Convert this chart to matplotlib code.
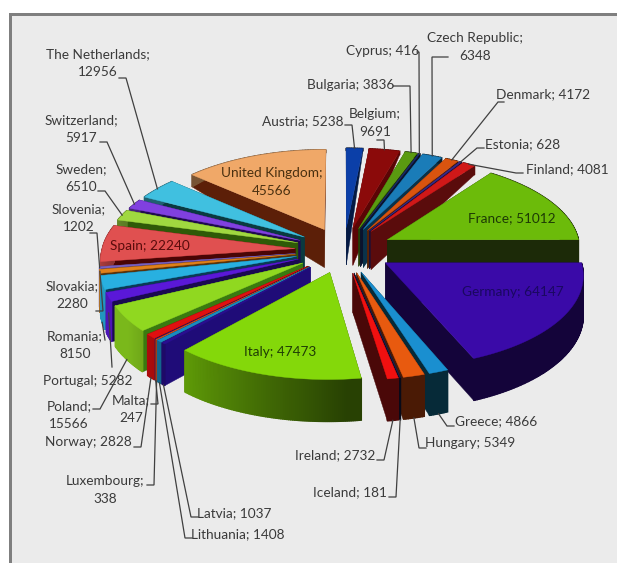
import numpy as np
import matplotlib
matplotlib.use('Agg')
import matplotlib.pyplot as plt
from matplotlib.patches import Polygon, Rectangle
from matplotlib.colors import to_rgb

plt.rcParams['font.family'] = ['Lato', 'DejaVu Sans']

countries = ['Austria', 'Belgium', 'Bulgaria', 'Cyprus', 'Czech Republic', 'Denmark', 'Estonia',
             'Finland', 'France', 'Germany', 'Greece', 'Hungary', 'Iceland', 'Ireland', 'Italy',
             'Latvia', 'Lithuania', 'Luxembourg', 'Malta', 'Norway', 'Poland', 'Portugal',
             'Romania', 'Slovakia', 'Slovenia', 'Spain', 'Sweden', 'Switzerland',
             'The Netherlands', 'United Kingdom']
values = [5238, 9691, 3836, 416, 6348, 4172, 628, 4081, 51012, 64147, 4866, 5349, 181, 2732,
          47473, 1037, 1408, 338, 247, 2828, 15566, 5282, 8150, 2280, 1202, 22240, 6510, 5917,
          12956, 45566]
colors = ['#0b3fa8', '#8b0a0a', '#5a9a10', '#1a2c70', '#1a7cb8', '#d9540f', '#3a2a90',
          '#d01818', '#6cbb0a', '#3a0aa8', '#1a8fd0', '#e85a0f', '#1a2050', '#f01010', '#84d80a',
          '#2a0e90', '#1a8ac0', '#e8500f', '#3a1a80', '#e01010', '#90d820', '#5a18d8',
          '#28b0e0', '#e0801a', '#7a60c0', '#e05050', '#a0d840', '#8040e0', '#40c0e0', '#f0a868']
# colours of the cut faces that do not follow the general shading
wall_colors = {'France': '#1c2a08', 'United Kingdom': '#5c1f08', 'Germany': '#14043a',
               'Greece': '#062a38', 'Hungary': '#4a1a05', 'Ireland': '#4a0808',
               'Finland': '#5a0c0c', 'The Netherlands': '#0a3a40', 'Sweden': '#2f5a08',
               'Poland': '#3a7a10', 'Switzerland': '#200a50', 'Spain': '#4a0505',
               'Portugal': '#1a0a50', 'Romania': '#0a3a55', 'Belgium': '#5a0505',
               'Latvia': '#1f0c78'}

# label centre x, y, broken over two lines, knee of the leader (None = no leader)
label_pos = {
    'Austria': (303, 121, False, (352, 125)),
    'Belgium': (375, 123, True, (384, 140)),
    'Bulgaria': (351, 85, False, (410, 86)),
    'Cyprus': (383, 51, False, (419, 52)),
    'Czech Republic': (475, 47, True, (432, 57)),
    'Denmark': (543, 94, False, (498, 102)),
    'Estonia': (523, 144, False, (477, 148)),
    'Finland': (567, 169, False, (516, 173)),
    'France': (512, 218, False, None),
    'Germany': (513, 292, False, None),
    'Greece': (496, 421, False, (447, 426)),
    'Hungary': (470, 443, False, (419, 448)),
    'Iceland': (350, 492, False, (396, 497)),
    'Ireland': (335, 455, False, (384, 460)),
    'Italy': (280, 352, False, None),
    'Latvia': (234, 513, False, (191, 517)),
    'Lithuania': (238, 534, False, (185, 538)),
    'Luxembourg': (105, 490, True, (154, 485)),
    'Malta': (131, 409, True, (158, 404)),
    'Norway': (88, 442, False, (141, 447)),
    'Poland': (69, 415, True, (100, 409)),
    'Portugal': (88, 381, False, (112, 367)),
    'Romania': (75, 345, True, (105, 340)),
    'Slovakia': (72, 295, True, (103, 311)),
    'Slovenia': (79, 218, True, (97, 233)),
    'Spain': (150, 246, False, None),
    'Sweden': (81, 178, True, (105, 191)),
    'Switzerland': (81, 129, True, (107, 142)),
    'The Netherlands': (98, 63, True, (126, 78)),
    'United Kingdom': (272, 182, True, None),
}
inner_text = {'France': '#1d3a05', 'Germany': '#1a0860', 'Italy': '#1f3d05',
              'Spain': '#5a0c0c', 'United Kingdom': '#4a3010'}
# stub lengths that differ from the usual 7 px, and where on the wall a leader lands
stub_len = {'Bulgaria': 17, 'Czech Republic': 16, 'Cyprus': 2, 'Portugal': 0, 'Romania': 0,
            'Denmark': 6}
wall_attach = {'Portugal': 0.4, 'Slovakia': 0, 'Slovenia': 0}

cx, cy = 344, 250
radius = 193
explode = 49
tilt = 0.465


def shade(col, f):
    return tuple(c * f for c in to_rgb(col))


def wall_height(Y):
    return np.interp(Y, [-206, 45, 174, 260], [42, 38, 12, 0])


def project(theta, r, mid):
    # plan position of a point of the exploded slice, then perspective
    t, m = np.radians(theta), np.radians(mid)
    X = r * np.sin(t) + explode * np.sin(m)
    Y = r * np.cos(t) + explode * np.cos(m)
    persp = np.where(Y > 0, 12 * radius, 9 * radius)
    s = persp / (persp + Y)
    return cx + X * s, cy - tilt * Y * s, wall_height(Y)


def arc_shade(a):
    return np.interp(a, [90, 160, 175, 222, 235, 260, 300], [0.25, 0.3, 0.3, 0.72, 0.85, 0.85, 0.5])


def draw_slice(ax, start, end, col, name):
    mid = (start + end) / 2
    angles = np.linspace(start, end, max(int(end - start) * 2, 3))
    ox, oy, oh = project(0, 0, mid)
    ex, ey, eh = project(angles, radius, mid)

    # two cut faces first
    face = wall_colors.get(name, shade(col, 0.4))
    for i in (0, -1):
        ax.add_patch(Polygon([(ox, oy), (ex[i], ey[i]), (ex[i], ey[i] + eh[i]), (ox, oy + oh)],
                             closed=True, fc=face, ec=face, lw=0.3))
    # outer wall in strips so the shading can change round the arc
    for i in range(len(angles) - 1):
        if name in wall_colors and mid < 170:
            c = wall_colors[name]
        else:
            c = shade(col, arc_shade((angles[i] + angles[i + 1]) / 2))
        ax.add_patch(Polygon([(ex[i], ey[i]), (ex[i + 1], ey[i + 1]),
                              (ex[i + 1], ey[i + 1] + eh[i + 1]), (ex[i], ey[i] + eh[i])],
                             closed=True, fc=c, ec=c, lw=1.0))
    ax.add_patch(Polygon(np.column_stack([np.r_[ox, ex], np.r_[oy, ey]]), closed=True,
                         fc=col, ec=col, lw=0.3))


fig = plt.figure(figsize=(6.17, 5.63), dpi=100)
ax = fig.add_axes([0, 0, 1, 1])
ax.set_xlim(0, 617)
ax.set_ylim(563, 0)
ax.axis('off')

# panel with the darker top and left border
ax.add_patch(Rectangle((10, 14), 607, 549, fc='#ebebeb', ec='none'))
ax.add_patch(Rectangle((9, 13), 3, 550, fc='#7f7f7f', ec='none'))
ax.add_patch(Rectangle((9, 13), 608, 3, fc='#7f7f7f', ec='none'))

vals = np.array(values, dtype=float)
edges = np.r_[0, np.cumsum(vals)] / vals.sum() * 360
mids = (edges[:-1] + edges[1:]) / 2

# far slices first
for i in np.argsort(-np.cos(np.radians(mids))):
    draw_slice(ax, edges[i], edges[i + 1], colors[i], countries[i])

for i, name in enumerate(countries):
    lx, ly, two_lines, knee = label_pos[name]
    sep = '\n' if two_lines else ' '
    txt = f'{name};{sep}{values[i]}'
    tc = inner_text.get(name, '#3a3a3a')
    ax.text(lx, ly, txt, ha='center', va='center', fontsize=9.8, color=tc, linespacing=1.6)
    if knee is not None:
        px, py, wh = project(mids[i], radius, mids[i])
        if np.cos(np.radians(mids[i])) < 0:
            py += wh * wall_attach.get(name, 1)
        stub = stub_len.get(name, 7)
        sx = knee[0] - stub if knee[0] > lx else knee[0] + stub
        ax.plot([sx, knee[0], px], [knee[1], knee[1], py], color='#404040', lw=0.9,
                solid_joinstyle='miter')

fig.savefig('out.png', dpi=100)
